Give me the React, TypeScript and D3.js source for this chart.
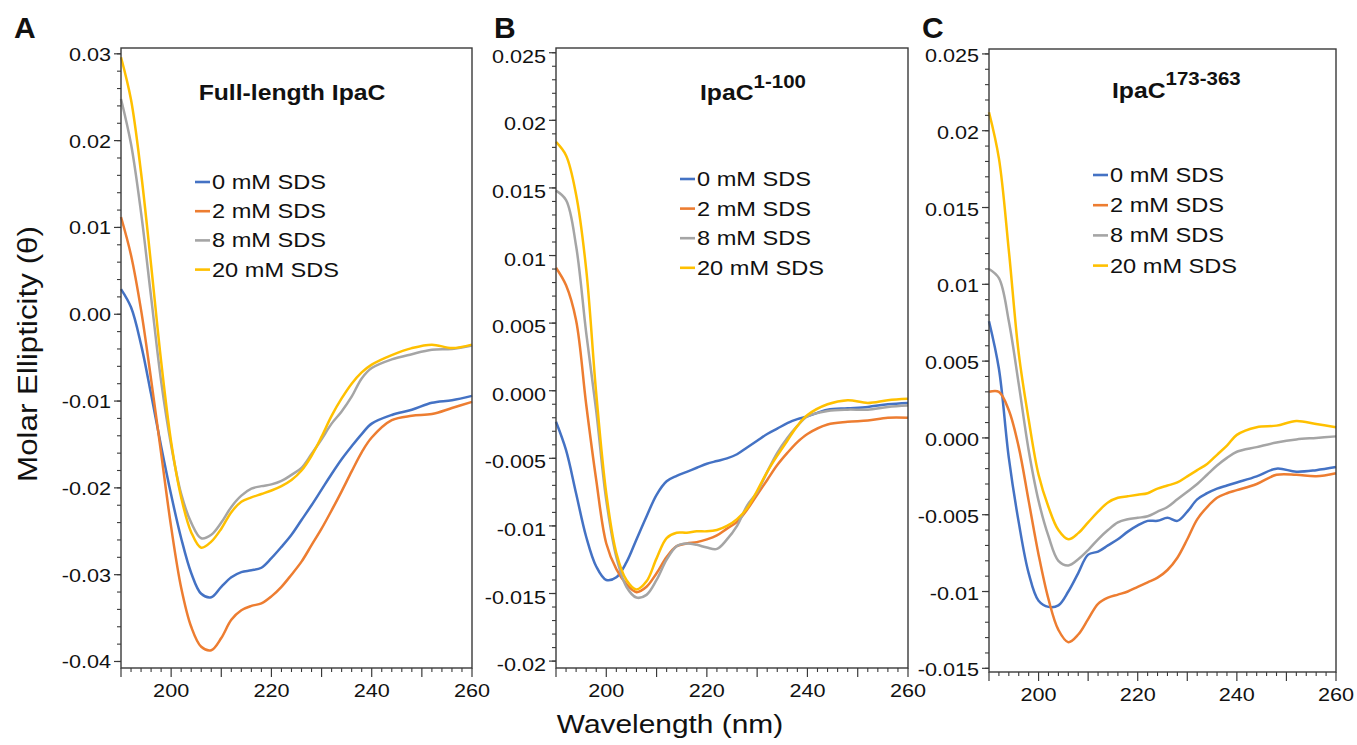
import React from "react";
import * as d3 from "d3";

const SERIES_NAMES = ["0 mM SDS", "2 mM SDS", "8 mM SDS", "20 mM SDS"];
const COLORS = ["#4472C4", "#ED7D31", "#A5A5A5", "#FFC000"];

const WAVELENGTHS = [190, 192, 194, 196, 198, 200, 202, 204, 206, 208, 210, 212, 214, 216, 218, 220, 222, 224, 226, 228, 230, 232, 234, 236, 238, 240, 244, 248, 252, 256, 260];

// Panel A: Full-length IpaC
const A_0 = [0.0029, 0.0008, -0.0035, -0.0092, -0.0152, -0.0208, -0.0258, -0.0298, -0.0322, -0.0326, -0.0314, -0.0303, -0.0297, -0.0295, -0.0292, -0.0281, -0.0268, -0.0254, -0.0237, -0.022, -0.0202, -0.0184, -0.0167, -0.0152, -0.0138, -0.0126, -0.0116, -0.011, -0.0102, -0.0099, -0.0094];
const A_2 = [0.0112, 0.0068, 0.0005, -0.0075, -0.016, -0.0245, -0.0315, -0.036, -0.0383, -0.0387, -0.0373, -0.0352, -0.0341, -0.0336, -0.0333, -0.0325, -0.0314, -0.03, -0.0285, -0.0266, -0.0247, -0.0226, -0.0204, -0.0181, -0.0159, -0.0142, -0.0122, -0.0117, -0.0115, -0.0108, -0.0101];
const A_8 = [0.0248, 0.0196, 0.0117, 0.002, -0.0077, -0.0151, -0.0207, -0.024, -0.0258, -0.0254, -0.024, -0.0222, -0.0209, -0.0201, -0.0198, -0.0196, -0.0192, -0.0185, -0.0177, -0.0161, -0.0144, -0.0126, -0.0112, -0.0095, -0.0074, -0.0062, -0.0052, -0.0046, -0.0041, -0.004, -0.0036];
const A_20 = [0.0296, 0.0247, 0.0163, 0.0057, -0.0054, -0.0147, -0.0211, -0.0251, -0.0269, -0.0262, -0.0247, -0.0228, -0.0216, -0.0211, -0.0207, -0.0203, -0.0198, -0.0191, -0.018, -0.0163, -0.0141, -0.0117, -0.0097, -0.008, -0.0067, -0.0058, -0.0047, -0.0039, -0.0035, -0.0039, -0.0035];

// Panel B: IpaC 1-100
const B_0 = [-0.0023, -0.0044, -0.0076, -0.0108, -0.013, -0.014, -0.0138, -0.0127, -0.011, -0.0093, -0.0077, -0.0067, -0.0063, -0.006, -0.0057, -0.0054, -0.0052, -0.005, -0.0047, -0.0042, -0.0037, -0.0032, -0.0028, -0.0024, -0.0021, -0.0019, -0.0014, -0.0013, -0.0012, -0.001, -0.0009];
const B_2 = [0.0091, 0.0078, 0.0052, -0.001, -0.0066, -0.0113, -0.0132, -0.0143, -0.0149, -0.0145, -0.0135, -0.0123, -0.0115, -0.0113, -0.0112, -0.011, -0.0107, -0.0102, -0.0097, -0.0088, -0.0077, -0.0066, -0.0055, -0.0046, -0.0038, -0.0032, -0.0025, -0.0023, -0.0022, -0.002, -0.002];
const B_8 = [0.0148, 0.0141, 0.0107, 0.0043, -0.0015, -0.0081, -0.0123, -0.0145, -0.0153, -0.0151, -0.014, -0.0125, -0.0115, -0.0113, -0.0114, -0.0116, -0.0117, -0.011, -0.01, -0.0085, -0.0075, -0.006, -0.0046, -0.0035, -0.0026, -0.0019, -0.0015, -0.0014, -0.0014, -0.0012, -0.0011];
const B_20 = [0.0184, 0.0174, 0.0145, 0.009, -0.0002, -0.0076, -0.012, -0.014, -0.0147, -0.0141, -0.0124, -0.0109, -0.0105, -0.0105, -0.0104, -0.0104, -0.0103, -0.01, -0.0095, -0.0087, -0.0074, -0.006, -0.0048, -0.0037, -0.0026, -0.0018, -0.001, -0.0007, -0.0009, -0.0007, -0.0006];

// Panel C: IpaC 173-363
const C_0 = [0.0076, 0.0045, -0.0013, -0.0055, -0.0088, -0.0106, -0.011, -0.0109, -0.01, -0.0088, -0.0076, -0.0074, -0.007, -0.0066, -0.0061, -0.0057, -0.0054, -0.0054, -0.0052, -0.0054, -0.0048, -0.004, -0.0036, -0.0033, -0.0031, -0.0029, -0.0025, -0.002, -0.0022, -0.0021, -0.0019];
const C_2 = [0.003, 0.003, 0.0018, -0.0006, -0.0041, -0.0076, -0.0105, -0.0125, -0.0133, -0.0128, -0.0118, -0.0108, -0.0104, -0.0102, -0.01, -0.0097, -0.0094, -0.0091, -0.0086, -0.0078, -0.0066, -0.0053, -0.0045, -0.0039, -0.0036, -0.0034, -0.003, -0.0024, -0.0024, -0.0025, -0.0023];
const C_8 = [0.011, 0.0104, 0.0076, 0.0035, -0.0008, -0.0041, -0.0064, -0.008, -0.0083, -0.0079, -0.0073, -0.0066, -0.006, -0.0055, -0.0053, -0.0052, -0.0051, -0.0048, -0.0045, -0.004, -0.0035, -0.003, -0.0024, -0.0018, -0.0013, -0.0009, -0.0006, -0.0003, -0.0001, 0.0, 0.0001];
const C_20 = [0.0212, 0.0182, 0.0122, 0.0055, 0.0012, -0.0024, -0.0045, -0.006, -0.0066, -0.0062, -0.0055, -0.0048, -0.0042, -0.0039, -0.0038, -0.0037, -0.0036, -0.0033, -0.0031, -0.0029, -0.0025, -0.0021, -0.0017, -0.0011, -0.0005, 0.0002, 0.0007, 0.0008, 0.0011, 0.0009, 0.0007];

const X_MAJOR = [190, 200, 210, 220, 230, 240, 250, 260];
const X_LABELS = [200, 220, 240, 260];

const A_YTICKS = [0.03, 0.02, 0.01, 0.0, -0.01, -0.02, -0.03, -0.04];
const A_YLABELS = ["0.03", "0.02", "0.01", "0.00", "-0.01", "-0.02", "-0.03", "-0.04"];
const B_YTICKS = [0.025, 0.02, 0.015, 0.01, 0.005, 0.0, -0.005, -0.01, -0.015, -0.02];
const B_YLABELS = ["0.025", "0.02", "0.015", "0.01", "0.005", "0.000", "-0.005", "-0.01", "-0.015", "-0.02"];
const C_YTICKS = [0.025, 0.02, 0.015, 0.01, 0.005, 0.0, -0.005, -0.01, -0.015];
const C_YLABELS = ["0.025", "0.02", "0.015", "0.01", "0.005", "0.000", "-0.005", "-0.01", "-0.015"];

const FONT = "'Liberation Sans', Arial, Helvetica, sans-serif";
const SX = 1.15;

type PanelCfg = {
  letter: string;
  letterX: number;
  title: string;
  sup: string;
  titleX: number;
  titleY: number;
  titleAnchor: "start" | "middle";
  supDy: number;
  left: number;
  right: number;
  top: number;
  bottom: number;
  yDomain: [number, number];
  yTicks: number[];
  yLabels: string[];
  labelDy: number;
  minorStep: number;
  minorFrom: number;
  minorTo: number;
  series: number[][];
  legendX: number;
  legendY: number;
  legendDy: number;
};

const PANELS: PanelCfg[] = [
  {
    letter: "A", letterX: 14, title: "Full-length IpaC", sup: "", titleX: 292, titleY: 100, titleAnchor: "middle", supDy: 0,
    left: 121, right: 472, top: 48, bottom: 668, yDomain: [-0.04075, 0.03067],
    yTicks: A_YTICKS, yLabels: A_YLABELS, labelDy: 7, minorStep: 0.002, minorFrom: -0.04, minorTo: 0.03,
    series: [A_0, A_2, A_8, A_20], legendX: 195, legendY: 182, legendDy: 29.2,
  },
  {
    letter: "B", letterX: 494, title: "IpaC", sup: "1-100", titleX: 700, titleY: 100, titleAnchor: "start", supDy: -12,
    left: 556, right: 908, top: 48, bottom: 668, yDomain: [-0.02051, 0.02535],
    yTicks: B_YTICKS, yLabels: B_YLABELS, labelDy: 10, minorStep: 0.001, minorFrom: -0.02, minorTo: 0.025,
    series: [B_0, B_2, B_8, B_20], legendX: 680, legendY: 179, legendDy: 29.6,
  },
  {
    letter: "C", letterX: 922, title: "IpaC", sup: "173-363", titleX: 1112, titleY: 98, titleAnchor: "start", supDy: -13,
    left: 989, right: 1336, top: 49, bottom: 672, yDomain: [-0.01524, 0.02532],
    yTicks: C_YTICKS, yLabels: C_YLABELS, labelDy: 8, minorStep: 0.001, minorFrom: -0.015, minorTo: 0.025,
    series: [C_0, C_2, C_8, C_20], legendX: 1093, legendY: 175, legendDy: 30.2,
  },
];

function Panel({ p }: { p: PanelCfg }) {
  const x = d3.scaleLinear().domain([190, 260]).range([p.left, p.right]);
  const y = d3.scaleLinear().domain(p.yDomain).range([p.bottom, p.top]);
  const line = d3
    .line<number>()
    .x((_, i) => x(WAVELENGTHS[i]))
    .y((v) => y(v))
    .curve(d3.curveCatmullRom.alpha(0.5));
  const xMinor = d3.range(190, 260.001, 2).filter((v) => v % 10 !== 0);
  const nMinor = Math.round((p.minorTo - p.minorFrom) / p.minorStep);
  const yMinor = d3.range(0, nMinor + 1).map((i) => p.minorFrom + i * p.minorStep);
  const axisColor = "#3a3a3a";
  return (
    <g>
      <text x={p.letterX} y={38} fontFamily={FONT} fontWeight="bold" fontSize={30} fill="#111">
        {p.letter}
      </text>
      {p.series.map((s, i) => (
        <path key={i} d={line(s) || ""} fill="none" stroke={COLORS[i]} strokeWidth={2.5} strokeLinejoin="round" />
      ))}
      <rect x={p.left} y={p.top} width={p.right - p.left} height={p.bottom - p.top} fill="none" stroke={axisColor} strokeWidth={1.4} />
      {yMinor.map((v, i) => (
        <line key={"ym" + i} x1={p.left - 4} x2={p.left} y1={y(v)} y2={y(v)} stroke={axisColor} strokeWidth={1.1} />
      ))}
      {p.yTicks.map((v, i) => (
        <g key={"yt" + i}>
          <line x1={p.left - 7} x2={p.left} y1={y(v)} y2={y(v)} stroke={axisColor} strokeWidth={1.2} />
          <text
            transform={`translate(${p.left - 10},${y(v) + p.labelDy}) scale(${SX},1)`}
            textAnchor="end"
            fontFamily={FONT}
            fontSize={18.8}
            fill="#111"
          >
            {p.yLabels[i]}
          </text>
        </g>
      ))}
      {xMinor.map((v, i) => (
        <line key={"xm" + i} x1={x(v)} x2={x(v)} y1={p.bottom} y2={p.bottom + 4} stroke={axisColor} strokeWidth={1.1} />
      ))}
      {X_MAJOR.map((v, i) => (
        <line key={"xt" + i} x1={x(v)} x2={x(v)} y1={p.bottom} y2={p.bottom + 9} stroke={axisColor} strokeWidth={1.2} />
      ))}
      {X_LABELS.map((v, i) => (
        <text
          key={"xl" + i}
          transform={`translate(${x(v)},${p.bottom + 29}) scale(${SX},1)`}
          textAnchor="middle"
          fontFamily={FONT}
          fontSize={18.8}
          fill="#111"
        >
          {v}
        </text>
      ))}
      <text
        transform={`translate(${p.titleX},${p.titleY}) scale(${SX},1)`}
        textAnchor={p.titleAnchor}
        fontFamily={FONT}
        fontWeight="bold"
        fontSize={21.5}
        fill="#111"
      >
        <tspan>{p.title}</tspan>
        {p.sup ? (
          <tspan dy={p.supDy} fontSize={17.8}>
            {p.sup}
          </tspan>
        ) : null}
      </text>
      {SERIES_NAMES.map((name, i) => {
        const cy = p.legendY + i * p.legendDy;
        return (
          <g key={"lg" + i}>
            <line x1={p.legendX} x2={p.legendX + 15} y1={cy} y2={cy} stroke={COLORS[i]} strokeWidth={2.6} />
            <text
              transform={`translate(${p.legendX + 17},${cy + 7}) scale(${SX},1)`}
              fontFamily={FONT}
              fontSize={20.5}
              fill="#111"
            >
              {name}
            </text>
          </g>
        );
      })}
    </g>
  );
}

export default function App() {
  return (
    <svg width={1357} height={745} viewBox="0 0 1357 745" style={{ display: "block", position: "absolute", left: 0, top: 0, background: "#fff" }}>
      <rect x={0} y={0} width={1357} height={745} fill="#fff" />
      {PANELS.map((p, i) => (
        <Panel key={i} p={p} />
      ))}
      <text
        transform="translate(670,733) scale(1.15,1)"
        textAnchor="middle"
        fontFamily={FONT}
        fontSize={26}
        fill="#111"
      >
        Wavelength (nm)
      </text>
      <text
        transform="translate(37,354) rotate(-90) scale(1.1,1)"
        textAnchor="middle"
        fontFamily={FONT}
        fontSize={28.5}
        fill="#111"
      >
        Molar Ellipticity (θ)
      </text>
    </svg>
  );
}
